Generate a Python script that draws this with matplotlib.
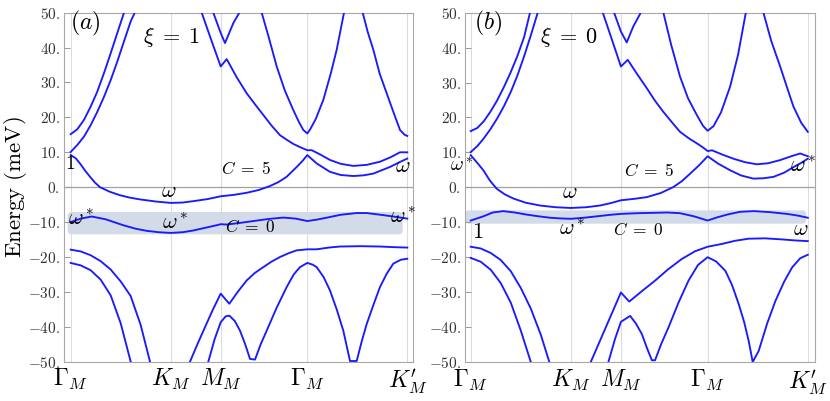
import numpy as np
import matplotlib
matplotlib.use("Agg")
import matplotlib.pyplot as plt
import matplotlib.patches as mpatches

plt.rcParams['mathtext.fontset'] = 'cm'
plt.rcParams['font.family'] = ['DejaVu Serif']

# ---------------- path / ticks ----------------
segment_lengths = [1.0, 0.5, np.sqrt(3) / 2, 1.0]          # Γ-K, K-M, M-Γ, Γ-K'
path_ticks = np.concatenate([[0.0], np.cumsum(segment_lengths)])
path_labels = [r'$\Gamma_M$', r'$K_M$', r'$M_M$', r'$\Gamma_M$', r"$K^{\prime}_M$"]
y_ticks = [50, 40, 30, 20, 10, 0, -10, -20, -30, -40, -50]
y_tick_labels = [r'$50.$', r'$40.$', r'$30.$', r'$20.$', r'$10.$', r'$0.$',
                 r'$-10.$', r'$-20.$', r'$-30.$', r'$-40.$', r'$-50.$']

# ---------------- panel (a): xi = 1 ----------------
a_U1_k = [0, 0.066, 0.133, 0.2, 0.266, 0.333, 0.4, 0.466, 0.533]
a_U1_E = [15.2, 16.6, 19.3, 23.1, 27.4, 32.7, 38.4, 44.2, 50.0]
a_U2_k = [0, 0.066, 0.133, 0.2, 0.266, 0.333, 0.4, 0.466, 0.533, 0.6, 0.64]
a_U2_E = [10.1, 12.1, 14.5, 17.8, 21.6, 25.9, 30.7, 36.0, 41.8, 47.5, 50.0]
a_A_k = [1.31, 1.393, 1.5, 1.56, 1.66, 1.76, 1.85, 1.926, 2.01, 2.093, 2.16, 2.226, 2.3, 2.366,
         2.41, 2.5, 2.593, 2.7, 2.826, 2.96, 3.093, 3.2, 3.293, 3.366]
a_A_E = [50.0, 43.2, 34.6, 36.7, 31.5, 26.9, 23.5, 20.7, 17.6, 14.9, 13.6, 12.4, 11.4, 10.6,
         10.6, 9.3, 7.8, 6.7, 6.1, 6.4, 7.3, 8.6, 10.0, 10.0]
a_B_k = [1.426, 1.5, 1.543, 1.626, 1.686]
a_B_E = [50.0, 44.2, 41.3, 47.0, 50.0]
a_D_k = [1.91, 1.98, 2.06, 2.14, 2.226, 2.28, 2.326, 2.366, 2.393, 2.45, 2.526, 2.6, 2.66, 2.733]
a_D_E = [50.0, 43.0, 34.6, 27.8, 22.1, 18.8, 16.4, 15.4, 16.5, 19.5, 25.0, 32.5, 39.4, 50.0]
a_E_k = [2.92, 2.97, 3.026, 3.09, 3.16, 3.23, 3.293, 3.34, 3.366]
a_E_E = [50.0, 44.5, 39.4, 32.5, 26.9, 21.3, 16.4, 15.0, 14.7]
a_C5_k = [0, 0.05, 0.093, 0.14, 0.193, 0.24, 0.293, 0.39, 0.493, 0.593, 0.693, 0.85, 1.0, 1.12,
          1.226, 1.37, 1.5, 1.63, 1.76, 1.88, 1.99, 2.08, 2.16, 2.26, 2.32, 2.366,
          2.46, 2.593, 2.7, 2.826, 2.93, 3.026, 3.193, 3.29, 3.366]
a_C5_E = [9.2, 8.3, 6.8, 4.9, 3.0, 1.4, 0.0, -1.3, -2.3, -3.0, -3.5, -4.1, -4.5, -4.4,
          -4.0, -3.4, -2.6, -2.2, -1.6, -0.8, 0.3, 1.5, 3.0, 5.8, 7.6, 9.2,
          6.8, 4.4, 3.5, 3.2, 3.4, 3.9, 5.8, 7.2, 8.2]
a_C0_k = [0, 0.1, 0.21, 0.35, 0.526, 0.65, 0.76, 0.88, 1.0, 1.12, 1.226, 1.35, 1.46, 1.5, 1.56,
          1.7, 1.826, 1.98, 2.126, 2.25, 2.366, 2.46, 2.566, 2.7, 2.86, 2.96, 3.126, 3.25, 3.366]
a_C0_E = [-10.0, -9.0, -8.4, -9.2, -10.9, -11.9, -12.5, -12.9, -13.1, -12.9, -12.4, -11.6, -10.9, -10.6, -10.7,
          -10.2, -9.7, -9.1, -8.7, -9.0, -9.7, -9.3, -8.7, -7.9, -7.4, -7.4, -8.0, -8.5, -9.0]
a_L1_k = [0, 0.1, 0.2, 0.3, 0.4, 0.5, 0.6, 0.7, 0.793]
a_L1_E = [-17.9, -18.4, -19.5, -21.2, -23.6, -27.0, -31.2, -39.5, -50.0]
a_L2_k = [0, 0.1, 0.2, 0.3, 0.4, 0.5, 0.6]
a_L2_E = [-21.7, -22.4, -23.8, -26.5, -31.0, -39.0, -50.0]
a_L3_k = [1.193, 1.27, 1.343, 1.42, 1.5, 1.586, 1.67, 1.76, 1.84, 1.926, 2.01, 2.093, 2.18, 2.26,
          2.366, 2.46, 2.58, 2.693, 2.9, 3.093, 3.25, 3.366]
a_L3_E = [-50.0, -44.8, -40.1, -35.2, -30.5, -33.4, -30.0, -26.7, -24.6, -22.9, -21.3, -20.0, -18.9, -18.1,
          -17.8, -17.8, -17.3, -17.0, -16.9, -17.0, -17.2, -17.3]
a_L4_k = [1.376, 1.44, 1.5, 1.55, 1.586, 1.64, 1.693, 1.745, 1.793, 1.843, 1.9, 1.96, 2.06, 2.16,
          2.23, 2.293, 2.366, 2.42, 2.46, 2.53, 2.593, 2.66, 2.726, 2.793, 2.86, 2.91, 2.96,
          3.03, 3.093, 3.16, 3.226, 3.3, 3.366]
a_L4_E = [-50.0, -43.5, -38.7, -37.0, -36.8, -38.3, -41.1, -45.0, -49.2, -49.4, -45.0, -41.1, -34.5, -28.6,
          -25.0, -22.9, -21.7, -22.2, -22.9, -25.8, -29.6, -35.0, -41.1, -49.8, -49.8, -44.2, -39.2,
          -33.5, -28.6, -24.8, -21.9, -20.8, -20.5]

# ---------------- panel (b): xi = 0 ----------------
b_U1_k = [0, 0.066, 0.133, 0.2, 0.266, 0.333, 0.4, 0.466, 0.533, 0.592]
b_U1_E = [16.1, 17.0, 19.0, 21.8, 25.0, 28.8, 33.0, 37.6, 43.0, 50.0]
b_U2_k = [0, 0.066, 0.133, 0.2, 0.266, 0.333, 0.4, 0.466, 0.533, 0.6, 0.669]
b_U2_E = [10.1, 11.8, 14.1, 16.8, 19.8, 23.3, 27.3, 32.0, 37.5, 43.5, 50.0]
b_A_k = [1.319, 1.41, 1.5, 1.568, 1.66, 1.758, 1.84, 1.924, 2.01, 2.09, 2.18, 2.258, 2.32, 2.366,
         2.41, 2.52, 2.623, 2.74, 2.857, 2.97, 3.09, 3.2, 3.29, 3.366]
b_A_E = [50.0, 42.3, 34.6, 36.5, 32.5, 28.4, 24.8, 21.6, 18.6, 15.9, 14.0, 12.6, 11.4, 10.4,
         10.6, 9.3, 8.2, 7.2, 6.6, 6.9, 7.8, 8.9, 9.7, 8.9]
b_B_k = [1.432, 1.5, 1.558, 1.624, 1.698]
b_B_E = [50.0, 44.6, 41.5, 46.1, 50.0]
b_D_k = [1.924, 2.0, 2.09, 2.17, 2.258, 2.32, 2.366, 2.424, 2.5, 2.59, 2.67, 2.747]
b_D_E = [50.0, 41.0, 31.7, 25.5, 20.7, 17.6, 16.2, 17.5, 21.5, 28.8, 38.0, 50.0]
b_E_k = [2.923, 3.0, 3.09, 3.16, 3.223, 3.3, 3.366]
b_E_E = [50.0, 42.0, 34.6, 28.5, 23.1, 18.5, 15.9]
b_C5_k = [0, 0.06, 0.126, 0.19, 0.26, 0.34, 0.426, 0.55, 0.692, 0.85, 1.0, 1.15, 1.292, 1.4, 1.5,
          1.63, 1.758, 1.9, 2.024, 2.11, 2.19, 2.28, 2.366,
          2.47, 2.59, 2.7, 2.823, 2.92, 3.023, 3.13, 3.223, 3.3, 3.366]
b_C5_E = [9.2, 7.2, 4.9, 2.0, -0.4, -2.0, -3.2, -4.4, -5.2, -5.7, -5.9, -5.7, -5.2, -4.5, -3.7,
          -3.3, -2.8, -1.6, 0.1, 1.8, 3.9, 6.3, 8.9,
          6.8, 4.9, 3.4, 2.5, 2.6, 3.0, 4.2, 5.8, 7.0, 8.2]
b_C0_k = [0, 0.126, 0.22, 0.326, 0.44, 0.559, 0.68, 0.792, 0.9, 1.0, 1.13, 1.259, 1.38, 1.5, 1.66,
          1.824, 1.96, 2.09, 2.23, 2.366, 2.46, 2.56, 2.69, 2.826, 2.99, 3.157, 3.27, 3.366]
b_C0_E = [-9.5, -8.3, -7.2, -6.8, -7.2, -7.8, -8.3, -8.7, -8.9, -9.0, -8.7, -8.3, -7.9, -7.6, -7.4,
          -7.3, -7.2, -7.4, -8.3, -9.5, -8.6, -7.8, -7.0, -6.8, -7.1, -7.6, -8.1, -8.7]
b_L1_k = [0, 0.1, 0.2, 0.3, 0.4, 0.5, 0.6, 0.7, 0.785]
b_L1_E = [-17.0, -17.5, -18.8, -20.8, -24.0, -28.8, -34.7, -42.2, -50.0]
b_L2_k = [0, 0.1, 0.2, 0.3, 0.4, 0.5, 0.6]
b_L2_E = [-20.2, -21.3, -23.6, -27.4, -33.0, -41.0, -50.0]
b_L3_k = [1.199, 1.35, 1.5, 1.583, 1.71, 1.841, 1.97, 2.108, 2.24, 2.366, 2.508, 2.64, 2.774,
          2.94, 3.107, 3.24, 3.366]
b_L3_E = [-50.0, -40.0, -30.1, -32.7, -29.7, -26.7, -23.5, -20.5, -18.3, -17.0, -16.2, -15.3, -14.7,
          -14.6, -14.9, -15.2, -15.4]
b_L4_k = [1.375, 1.44, 1.5, 1.592, 1.65, 1.709, 1.76, 1.809, 1.841, 1.9, 1.975, 2.075, 2.175, 2.27,
          2.366, 2.45, 2.543, 2.61, 2.676, 2.73, 2.776, 2.816, 2.876, 2.96, 3.043, 3.13, 3.21, 3.29, 3.366]
b_L4_E = [-50.0, -43.5, -38.5, -36.8, -39.0, -42.0, -46.0, -49.5, -49.5, -45.0, -40.1, -33.0, -26.7, -22.2,
          -20.0, -21.2, -23.9, -28.0, -33.4, -38.5, -44.0, -50.0, -46.8, -39.0, -32.5, -27.0, -22.9, -20.3, -19.3]

# gap window (shaded) energies
a_window = (-13.5, -7.1)
b_window = (-10.4, -6.6)

# annotations: text, k, E
a_labels = [r'$(a)$', r'$\xi\;=\;1$', r'$1$', r'$C\;=\;5$', r'$\omega$', r'$\omega$',
            r'$\omega^*$', r'$\omega^*$', r'$C\;=\;0$', r'$\omega^*$']
a_label_k = [0.143, 1.01, -0.007, 1.753, 0.983, 3.323, 0.103, 1.043, 1.793, 3.328]
a_label_E = [46.8, 43.0, 6.6, 5.2, -1.2, 6.0, -9.2, -10.3, -11.5, -8.6]
b_labels = [r'$(b)$', r'$\xi\;=\;0$', r'$\omega^*$', r'$C\;=\;5$', r'$\omega^*$', r'$\omega$',
            r'$1$', r'$\omega^*$', r'$C\;=\;0$', r'$\omega$']
b_label_k = [0.173, 0.982, -0.087, 1.78, 3.32, 0.992, 0.068, 1.012, 1.676, 3.295]
b_label_E = [46.8, 43.0, 6.0, 4.6, 6.0, -1.2, -12.8, -11.8, -12.4, -11.8]

# ---------------- drawing ----------------
bands_a = [(a_U1_k, a_U1_E), (a_U2_k, a_U2_E), (a_A_k, a_A_E), (a_B_k, a_B_E), (a_D_k, a_D_E),
           (a_E_k, a_E_E), (a_C5_k, a_C5_E), (a_C0_k, a_C0_E), (a_L1_k, a_L1_E), (a_L2_k, a_L2_E),
           (a_L3_k, a_L3_E), (a_L4_k, a_L4_E)]
bands_b = [(b_U1_k, b_U1_E), (b_U2_k, b_U2_E), (b_A_k, b_A_E), (b_B_k, b_B_E), (b_D_k, b_D_E),
           (b_E_k, b_E_E), (b_C5_k, b_C5_E), (b_C0_k, b_C0_E), (b_L1_k, b_L1_E), (b_L2_k, b_L2_E),
           (b_L3_k, b_L3_E), (b_L4_k, b_L4_E)]

fig = plt.figure(figsize=(8.30, 4.01), dpi=100)
ax_a = fig.add_axes([64 / 830, 1 - 361.7 / 401, 349 / 830, 349 / 401])
ax_b = fig.add_axes([465 / 830, 1 - 362 / 401, 350 / 830, 349.3 / 401])

label_sizes = [17, 16, 14, 12.5, 16, 16, 16, 16, 12.5, 16]

def draw(ax, bands, window, win_x, xlim, labels, lk, le, ylabel):
    ax.set_xlim(*xlim)
    ax.set_ylim(-50, 50)
    for t in path_ticks:
        ax.axvline(t, color='#dcdcdc', lw=0.8, zorder=0)
    ax.axhline(0, color='#a0a0a0', lw=0.9, zorder=1)
    # shaded window with rounded corners
    x_per_px = (xlim[1] - xlim[0]) / 349.0
    y_per_px = 100.0 / 349.0
    box = mpatches.FancyBboxPatch((win_x[0], window[0]), win_x[1] - win_x[0], window[1] - window[0],
                                  boxstyle=mpatches.BoxStyle("Round", pad=0, rounding_size=4 * x_per_px),
                                  mutation_aspect=y_per_px / x_per_px,
                                  facecolor='#d3dae8', edgecolor='none', zorder=1.5)
    ax.add_patch(box)
    for k, e in bands:
        ax.plot(k, e, color='#1a1aff', lw=1.35, zorder=3, solid_joinstyle='round')
    for s, x, y, fs in zip(labels, lk, le, label_sizes):
        ax.text(x, y, s, fontsize=fs, ha='center', va='center', color='black', zorder=4)
    ax.set_xticks(path_ticks)
    ax.set_xticklabels(path_labels, fontsize=17)
    ax.set_yticks(y_ticks)
    ax.set_yticklabels(y_tick_labels, fontsize=11, color='#333333')
    ax.tick_params(axis='x', length=0, pad=4)
    ax.tick_params(axis='y', direction='in', length=4, width=0.7, color='#999999', pad=3)
    for sp in ax.spines.values():
        sp.set_color('#a8a8a8')
        sp.set_linewidth(0.8)
    if ylabel:
        ax.set_ylabel(r'$\mathrm{Energy\ (meV)}$', fontsize=16.5)
        ax.yaxis.set_label_coords(-0.101, 0.5)

draw(ax_a, bands_a, a_window, (-0.03, 3.32), (-0.067, 3.423), a_labels, a_label_k, a_label_E, True)
draw(ax_b, bands_b, b_window, (-0.057, 3.35), (-0.057, 3.438), b_labels, b_label_k, b_label_E, False)

fig.savefig('out.png', dpi=100)
